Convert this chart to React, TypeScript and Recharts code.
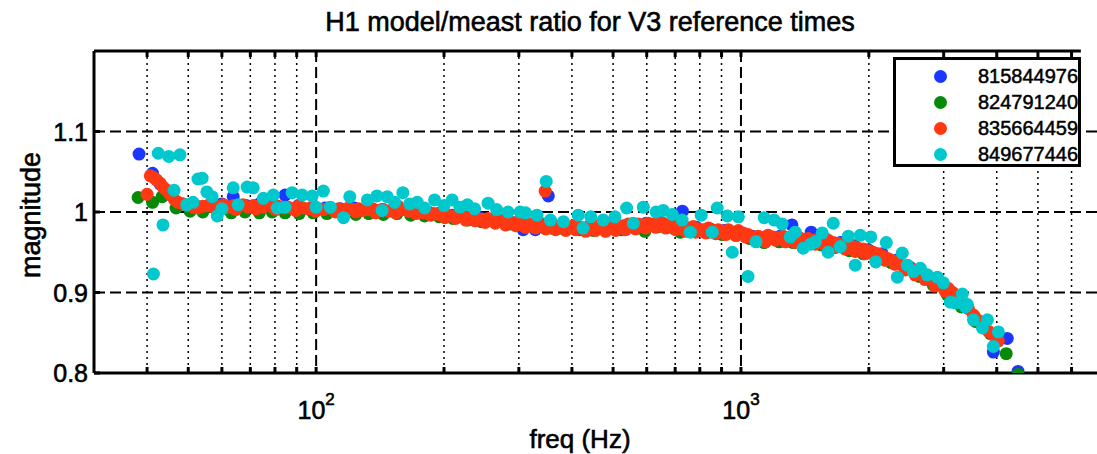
import { ScatterChart, Scatter, XAxis, YAxis, ReferenceLine, CartesianGrid, Legend } from 'recharts'

const FONT = '"Liberation Sans", Arial, Helvetica, sans-serif'

const SERIES_NAMES = ['815844976', '824791240', '835664459', '849677446']
const SERIES_COLORS = ['#1a36ff', '#078a07', '#ff3814', '#00c8cc']

// [freq (Hz), model/meas ratio]
const RUN_815844976: [number, number][] = [
  [38.3, 1.072], [41.2, 1.048], [42.9, 1.035], [45.3, 1.022], [48.6, 1.01], [52.4, 1.007],
  [56.3, 1.008], [60.0, 1.01], [63.8, 1.019], [68.4, 1.008], [73.5, 1.01], [78.8, 1.009],
  [84.5, 1.021], [90.8, 1.008], [97.9, 1.006], [105, 1.005], [114, 1.004], [123, 1.005],
  [133, 1.004], [143, 1.003], [154, 1.004], [166, 1.002], [179, 1.0], [194, 0.998],
  [209, 0.996], [226, 0.995], [243, 0.993], [262, 0.991], [283, 0.989], [307, 0.978],
  [328, 0.978], [352, 1.02], [379, 0.984], [410, 0.983], [443, 0.982], [477, 0.982],
  [514, 0.983], [555, 0.985], [598, 0.986], [645, 0.987], [728, 1.001], [785, 0.981],
  [847, 0.979], [914, 0.977], [986, 0.976], [1062, 0.97], [1145, 0.969], [1236, 0.97],
  [1318, 0.984], [1463, 0.975], [1587, 0.966], [1713, 0.962], [1849, 0.958], [1994, 0.953],
  [2151, 0.948], [2321, 0.94], [2504, 0.931], [2702, 0.922], [2915, 0.911], [3145, 0.9],
  [3393, 0.884], [3660, 0.862], [3928, 0.826], [4234, 0.843], [4489, 0.802],
]

const RUN_824791240: [number, number][] = [
  [38.1, 1.018], [41.2, 1.012], [43.4, 1.019], [46.8, 1.005], [50.5, 1.001], [54.1, 1.0],
  [58.5, 1.001], [63.1, 0.999], [68.0, 1.0], [73.5, 0.999], [78.8, 1.0], [84.5, 0.999],
  [91.2, 0.998], [98.4, 0.999], [106, 0.998], [115, 0.999], [124, 0.997], [133, 0.998],
  [144, 0.997], [155, 0.998], [167, 0.996], [180, 0.995], [195, 0.994], [210, 0.992],
  [227, 0.99], [245, 0.988], [264, 0.987], [284, 0.985], [307, 0.983], [331, 0.981],
  [357, 0.98], [385, 0.978], [416, 0.978], [449, 0.977], [484, 0.979], [522, 0.978],
  [564, 0.98], [594, 0.976], [642, 0.982], [693, 0.98], [720, 0.975], [776, 0.976],
  [838, 0.975], [904, 0.972], [975, 0.971], [1050, 0.967], [1134, 0.962], [1230, 0.963],
  [1327, 0.962], [1431, 0.961], [1544, 0.959], [1667, 0.956], [1799, 0.952], [1940, 0.948],
  [2093, 0.943], [2258, 0.937], [2437, 0.929], [2629, 0.92], [2837, 0.909], [3061, 0.897],
  [3302, 0.882], [3563, 0.864], [3864, 0.849], [4211, 0.824], [4489, 0.798],
]

const RUN_835664459: [number, number][] = [
  [40.0, 1.022], [40.7, 1.045], [41.4, 1.043], [42.1, 1.04], [42.9, 1.036], [43.6, 1.031],
  [44.3, 1.028], [45.3, 1.022], [46.3, 1.016], [47.3, 1.012], [48.6, 1.01], [49.9, 1.008],
  [51.3, 1.006], [52.7, 1.005], [54.1, 1.007], [55.6, 1.008], [57.2, 1.006], [58.8, 1.007],
  [60.4, 1.009], [62.1, 1.006], [63.8, 1.008], [65.5, 1.007], [67.3, 1.009], [69.2, 1.006],
  [71.1, 1.008], [73.1, 1.007], [75.1, 1.006], [77.1, 1.008], [79.3, 1.006], [81.4, 1.007],
  [83.7, 1.005], [86.0, 1.006], [88.3, 1.004], [90.8, 1.007], [93.2, 1.005], [95.8, 1.004],
  [98.4, 1.006], [101, 1.004], [104, 1.003], [107, 1.005], [110, 1.003], [113, 1.004],
  [116, 1.002], [119, 1.005], [122, 1.003], [126, 1.004], [129, 1.002], [133, 1.003],
  [136, 1.004], [140, 1.002], [144, 1.003], [148, 1.001], [152, 1.004], [156, 1.007],
  [160, 1.003], [165, 1.001], [169, 1.002], [174, 1.0], [179, 0.999], [184, 1.0],
  [189, 0.998], [194, 0.997], [199, 0.998], [204, 0.996], [210, 0.995], [216, 0.996],
  [222, 0.994], [228, 0.993], [234, 0.994], [240, 0.992], [247, 0.991], [254, 0.992],
  [261, 0.99], [268, 0.989], [275, 0.99], [283, 0.988], [291, 0.987], [299, 0.988],
  [307, 0.986], [315, 0.985], [324, 0.986], [333, 0.984], [342, 0.985], [346, 1.026],
  [352, 0.983], [361, 0.984], [371, 0.982], [382, 0.983], [392, 0.981], [403, 0.983],
  [414, 0.982], [425, 0.98], [437, 0.982], [449, 0.981], [461, 0.983], [474, 0.981],
  [487, 0.982], [500, 0.984], [514, 0.982], [528, 0.983], [543, 0.985], [558, 0.983],
  [573, 0.985], [589, 0.984], [605, 0.986], [622, 0.985], [639, 0.987], [656, 0.986],
  [674, 0.984], [693, 0.986], [712, 0.983], [731, 0.982], [752, 0.98], [772, 0.982],
  [794, 0.979], [815, 0.978], [838, 0.98], [861, 0.977], [884, 0.978], [909, 0.976],
  [934, 0.978], [959, 0.975], [986, 0.977], [1011, 0.974], [1039, 0.972], [1068, 0.967],
  [1097, 0.97], [1127, 0.968], [1158, 0.971], [1190, 0.969], [1223, 0.968], [1257, 0.97],
  [1291, 0.968], [1327, 0.967], [1363, 0.969], [1401, 0.966], [1439, 0.967], [1479, 0.965],
  [1520, 0.966], [1561, 0.964], [1604, 0.965], [1649, 0.962], [1694, 0.961], [1741, 0.96],
  [1789, 0.958], [1838, 0.957], [1888, 0.955], [1940, 0.954], [1994, 0.952], [2048, 0.95],
  [2105, 0.948], [2163, 0.945], [2222, 0.942], [2283, 0.939], [2346, 0.936], [2411, 0.933],
  [2477, 0.93], [2545, 0.928], [2615, 0.925], [2687, 0.922], [2761, 0.918], [2837, 0.914],
  [2915, 0.91], [2995, 0.911], [3078, 0.905], [3162, 0.899], [3249, 0.893], [3338, 0.887],
  [3430, 0.88], [3525, 0.872], [3621, 0.865], [3721, 0.858], [3823, 0.852], [3928, 0.847],
  [4036, 0.84],
  // lower edge of the band
  [64.7, 1.003], [72.1, 1.004], [80.3, 1.003], [89.5, 1.002], [99.7, 1.001], [111, 1.0],
  [124, 1.0], [138, 0.999], [154, 0.999], [172, 0.998], [186, 0.996], [201, 0.993],
  [213, 0.992], [225, 0.99], [237, 0.989], [250, 0.987], [264, 0.986], [279, 0.984],
  [295, 0.983], [311, 0.981], [328, 0.98], [347, 0.979], [366, 0.978], [387, 0.977],
  [408, 0.978], [431, 0.976], [455, 0.977], [480, 0.976], [507, 0.977], [535, 0.978],
  [565, 0.979], [597, 0.98], [630, 0.981], [665, 0.98], [702, 0.978], [741, 0.976],
  [782, 0.975], [826, 0.974], [872, 0.973], [920, 0.972], [971, 0.971], [1025, 0.969],
  [1082, 0.964], [1142, 0.963], [1206, 0.965], [1273, 0.963], [1344, 0.962], [1418, 0.961],
  [1497, 0.96], [1580, 0.958], [1668, 0.957], [1760, 0.954], [1858, 0.951], [1961, 0.948],
  [2070, 0.944], [2185, 0.94], [2306, 0.935], [2434, 0.928], [2569, 0.922], [2712, 0.916],
  [2862, 0.908], [3021, 0.902], [3189, 0.893], [3366, 0.884], [3553, 0.869],
]

const RUN_849677446: [number, number][] = [
  [41.4, 0.923], [42.5, 1.073], [43.6, 0.984], [45.0, 1.069], [46.3, 1.027], [47.8, 1.071],
  [49.6, 1.009], [51.3, 1.012], [52.7, 1.041], [53.9, 1.042], [55.3, 1.025], [56.9, 1.019],
  [58.5, 0.995], [60.0, 1.004], [63.8, 1.03], [65.5, 1.009], [68.8, 1.031], [71.1, 1.03],
  [75.1, 1.017], [79.3, 1.021], [81.0, 1.005], [84.5, 1.006], [87.8, 1.024], [92.7, 1.021],
  [97.9, 1.02], [100, 1.006], [104, 1.026], [108, 1.006], [116, 0.993], [120, 1.019],
  [132, 1.015], [139, 1.02], [143, 1.002], [147, 1.019], [153, 1.012], [160, 1.024],
  [166, 1.01], [173, 1.012], [180, 1.005], [190, 1.015], [200, 1.008], [209, 1.015],
  [218, 1.006], [227, 1.009], [236, 1.004], [254, 1.011], [266, 1.003], [283, 1.0],
  [302, 1.0], [311, 0.999], [331, 0.996], [348, 1.038], [356, 0.99], [382, 0.988],
  [414, 0.996], [425, 0.98], [443, 0.994], [474, 0.99], [505, 0.994], [538, 1.005],
  [558, 0.986], [589, 1.006], [631, 1.0], [656, 1.002], [689, 0.997], [727, 0.99],
  [760, 0.975], [806, 0.996], [856, 0.975], [879, 1.005], [929, 0.995], [954, 0.95],
  [986, 0.994], [1039, 0.92], [1085, 0.963], [1134, 0.993], [1197, 0.99], [1250, 0.985],
  [1306, 0.969], [1342, 0.975], [1401, 0.955], [1457, 0.96], [1497, 0.963], [1553, 0.974],
  [1604, 0.95], [1649, 0.986], [1713, 0.957], [1789, 0.97], [1858, 0.934], [1909, 0.971],
  [2021, 0.969], [2076, 0.938], [2198, 0.962], [2334, 0.919], [2397, 0.949], [2464, 0.934],
  [2545, 0.926], [2644, 0.93], [2746, 0.922], [2899, 0.919], [2995, 0.912], [3111, 0.888],
  [3197, 0.887], [3320, 0.898], [3374, 0.882], [3412, 0.885], [3525, 0.866], [3701, 0.856],
  [3803, 0.866], [3928, 0.833], [4036, 0.851],
]

const RUNS = [RUN_815844976, RUN_824791240, RUN_835664459, RUN_849677446]

const Y_TICKS = [0.8, 0.9, 1, 1.1]
const X_MAJOR = [100, 1000]
const X_MINOR = [40, 50, 60, 70, 80, 90, 200, 300, 400, 500, 600, 700, 800, 900, 2000, 3000, 4000, 5000, 6000]
const X_TICKS = [...X_MINOR.slice(0, 6), 100, ...X_MINOR.slice(6, 14), 1000, ...X_MINOR.slice(14)]

const W = 1120
const H = 454
const PLOT_LEFT = 94
const PLOT_TOP = 51
const PLOT_BOTTOM = 373

// heavier text, closer to the old X11 Helvetica look
const TEXT_STYLE = { fontFamily: FONT, fill: '#000', stroke: '#000', strokeWidth: 0.6 }

const toPoints = (run: [number, number][]) => run.map(([f, v]) => ({ f, v }))

function XTick(props: any) {
  const { x, payload } = props
  const v = payload.value as number
  const major = X_MAJOR.includes(v)
  return (
    <g>
      <line x1={x} x2={x} y1={PLOT_BOTTOM} y2={PLOT_BOTTOM - 6} stroke="#000" strokeWidth={3} />
      <line x1={x} x2={x} y1={PLOT_TOP} y2={PLOT_TOP + 6} stroke="#000" strokeWidth={3} />
      {major && (
        <text x={x} y={PLOT_BOTTOM + 46} textAnchor="middle" fontSize={25} {...TEXT_STYLE}>
          10
          <tspan dy={-14} fontSize={17}>
            {Math.round(Math.log10(v))}
          </tspan>
        </text>
      )}
    </g>
  )
}

function YTick(props: any) {
  const { y, payload } = props
  return (
    <g>
      <line x1={PLOT_LEFT} x2={PLOT_LEFT + 6} y1={y} y2={y} stroke="#000" strokeWidth={3} />
      <text x={88} y={y} dy={9} textAnchor="end" fontSize={25} {...TEXT_STYLE}>
        {String(payload.value)}
      </text>
    </g>
  )
}

function LegendBox() {
  return (
    <div
      style={{
        width: 182,
        height: 104,
        border: '3px solid #000',
        background: '#fff',
        boxSizing: 'content-box',
        position: 'relative',
      }}
    >
      {SERIES_NAMES.map((name, i) => (
        <div
          key={name}
          style={{
            position: 'absolute',
            left: 0,
            top: 5 + i * 26,
            height: 22,
            display: 'flex',
            alignItems: 'center',
          }}
        >
          <span
            style={{
              display: 'inline-block',
              width: 13,
              height: 13,
              borderRadius: '50%',
              background: SERIES_COLORS[i],
              marginLeft: 38,
            }}
          />
          <span
            style={{
              marginLeft: 31,
              fontFamily: FONT,
              fontSize: 20,
              color: '#000',
              WebkitTextStroke: '0.5px #000',
            }}
          >
            {name}
          </span>
        </div>
      ))}
    </div>
  )
}

const makeDot = (color: string) => (p: any) => <circle cx={p.cx} cy={p.cy} r={6.5} fill={color} />

export default function App() {
  return (
    <div style={{ position: 'absolute', left: 0, top: 0, width: 1097, height: H, overflow: 'hidden', background: '#fff' }}>
      <ScatterChart width={W} height={H} margin={{ top: PLOT_TOP, right: 20, bottom: 0, left: 0 }}>
        <CartesianGrid
          horizontal={false}
          verticalValues={X_MINOR}
          stroke="#000"
          strokeWidth={1.5}
          strokeDasharray="2 4"
        />
        <CartesianGrid
          horizontalValues={[0.9, 1, 1.1]}
          verticalValues={X_MAJOR}
          stroke="#000"
          strokeWidth={2}
          strokeDasharray="11 5"
        />
        <XAxis
          dataKey="f"
          type="number"
          scale="log"
          domain={[30, 7000]}
          allowDataOverflow
          ticks={X_TICKS}
          tick={<XTick />}
          tickLine={false}
          axisLine={{ stroke: '#000', strokeWidth: 3 }}
          height={H - PLOT_BOTTOM}
          interval={0}
        />
        <YAxis
          dataKey="v"
          type="number"
          domain={[0.8, 1.2]}
          allowDataOverflow
          ticks={Y_TICKS}
          tick={<YTick />}
          tickLine={false}
          axisLine={{ stroke: '#000', strokeWidth: 3 }}
          width={PLOT_LEFT}
          interval={0}
        />
        <ReferenceLine
          segment={[{ x: 30, y: 1.2 }, { x: 6310, y: 1.2 }]}
          stroke="#000"
          strokeWidth={3}
        />
        {RUNS.map((run, i) => (
          <Scatter
            key={SERIES_NAMES[i]}
            name={SERIES_NAMES[i]}
            data={toPoints(run)}
            fill={SERIES_COLORS[i]}
            shape={makeDot(SERIES_COLORS[i])}
            isAnimationActive={false}
          />
        ))}
        <Legend
          content={<LegendBox />}
          layout="horizontal"
          verticalAlign="middle"
          align="center"
          wrapperStyle={{ top: 57, left: 893, width: 188, height: 110 }}
        />
        <text x={590} y={31} textAnchor="middle" fontSize={27} {...TEXT_STYLE}>
          H1 model/meast ratio for V3 reference times
        </text>
        <text x={580} y={448} textAnchor="middle" fontSize={26} {...TEXT_STYLE}>
          freq (Hz)
        </text>
        <text
          x={40}
          y={215}
          textAnchor="middle"
          fontSize={27}
          {...TEXT_STYLE}
          transform="rotate(-90 40 215)"
        >
          magnitude
        </text>
      </ScatterChart>
    </div>
  )
}
